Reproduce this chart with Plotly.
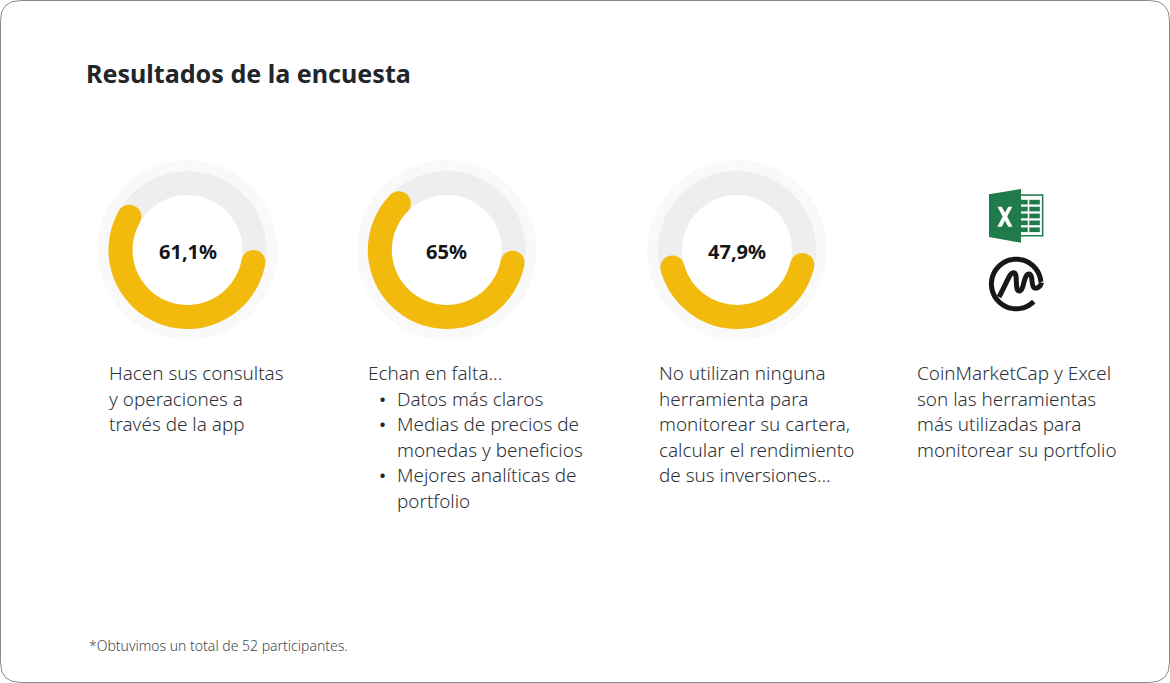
import math
import plotly.graph_objects as go

W, H = 1170, 683
FONT = "Noto Sans"
GOLD = "#F2BA0C"

# Data
values = [61.1, 65.0, 47.9]
labels = ["61,1%", "65%", "47,9%"]
title = "Resultados de la encuesta"
footnote = "*Obtuvimos un total de 52 participantes."
captions = [
    ["Hacen sus consultas", "y operaciones a", "través de la app"],
    ["Echan en falta..."],
    ["No utilizan ninguna", "herramienta para", "monitorear su cartera,", "calcular el rendimiento", "de sus inversiones..."],
    ["CoinMarketCap y Excel", "son las herramientas", "más utilizadas para", "monitorear su portfolio"],
]
bullets = [["Datos más claros"], ["Medias de precios de", "monedas y beneficios"], ["Mejores analíticas de", "portfolio"]]

# Layout of the rings
centres = [(187.5, 250), (446.8, 250), (737, 250)]
starts = [100.4, 101.0, 103.0]   # clockwise from 12 o'clock, centre of the first round end
caption_x = [107, 366, 657, 915]
R_HALO, R_TRACK, R_HOLE = 90, 79, 55
R_MID = (R_TRACK + R_HOLE) / 2
CAP = (R_TRACK - R_HOLE) / 2
cap_deg = 2 * math.degrees(math.asin(CAP / R_MID))

fig = go.Figure()
shapes, annots = [], []


def circle(cx, cy, r, fill):
    shapes.append(dict(type="circle", xref="x", yref="y", x0=cx - r, x1=cx + r, y0=cy - r, y1=cy + r,
                       fillcolor=fill, line_width=0, layer="below"))


def text(x, y, s, size=18.9, color="#2E3238", bold=False, anchor="left", weight=300):
    annots.append(dict(x=x, y=y, xref="x", yref="y", text=s, showarrow=False,
                       xanchor=anchor, yanchor="middle", align=anchor,
                       font=dict(family=FONT, size=size, color=color, weight=700 if bold else weight)))


cap_x, cap_y = [], []
for (cx, cy), v, start, lab in zip(centres, values, starts, labels):
    circle(cx, cy, R_HALO, "#F9F9F9")
    circle(cx, cy, R_TRACK, "#EEEEEE")
    circle(cx, cy, R_HOLE, "#FFFFFF")
    span_pct = v - cap_deg / 3.6
    fig.add_trace(go.Pie(
        values=[span_pct, 100 - span_pct], sort=False, direction="clockwise", rotation=start,
        hole=R_HOLE / R_TRACK, textinfo="none", hoverinfo="skip", showlegend=False,
        marker=dict(colors=[GOLD, "rgba(0,0,0,0)"], line=dict(width=0)),
        domain=dict(x=[(cx - R_TRACK) / W, (cx + R_TRACK) / W],
                    y=[1 - (cy + R_TRACK) / H, 1 - (cy - R_TRACK) / H]),
    ))
    for a in (start, start + span_pct * 3.6):
        cap_x.append(cx + R_MID * math.sin(math.radians(a)))
        cap_y.append(cy - R_MID * math.cos(math.radians(a)))
    text(cx, cy + 1, lab, size=20, color="#14161A", bold=True, anchor="center")

fig.add_trace(go.Scatter(x=cap_x, y=cap_y, mode="markers", hoverinfo="skip", showlegend=False, cliponaxis=False,
                         marker=dict(size=2 * CAP, color=GOLD, line_width=0)))

# Texts
text(84, 73, title, size=25.1, color="#22262B", bold=True)
text(87, 645, footnote, size=14, color="#44484E")
LINE = 25.6
for x, lines in zip(caption_x, captions):
    for i, s in enumerate(lines):
        text(x, 373 + i * LINE, s)
row = 1
for item in bullets:
    text(377, 373 + row * LINE, "•", weight=400, color="#22262B")
    for s in item:
        text(395, 373 + row * LINE, s)
        row += 1

# Card border
r = 20
x0, y0, x1, y1 = 0.5, 0.5, W - 0.5, H - 0.5
shapes.insert(0, dict(type="path", xref="x", yref="y", layer="below", fillcolor="#FFFFFF",
                      line=dict(color="#8A8A8A", width=1),
                      path=f"M{x0+r},{y0} L{x1-r},{y0} Q{x1},{y0} {x1},{y0+r} L{x1},{y1-r} Q{x1},{y1} {x1-r},{y1} "
                           f"L{x0+r},{y1} Q{x0},{y1} {x0},{y1-r} L{x0},{y0+r} Q{x0},{y0} {x0+r},{y0} Z"))


# Excel icon
def poly(points, fill):
    d = "M" + " L".join(f"{a},{b}" for a, b in points) + " Z"
    shapes.append(dict(type="path", xref="x", yref="y", path=d, fillcolor=fill, line_width=0, layer="above"))


XL = "#1F7A4C"
poly([(1021, 194.3), (1043.4, 194.3), (1043.4, 236.5), (1021, 236.5)], XL)
poly([(1021, 195.8), (1041.9, 195.8), (1041.9, 235), (1021, 235)], "#FFFFFF")
for i in range(5):
    y = 199.8 + i * 6.9
    poly([(1021, y), (1027.7, y), (1027.7, y + 4.7), (1021, y + 4.7)], XL)
    poly([(1029.3, y), (1039.8, y), (1039.8, y + 4.7), (1029.3, y + 4.7)], XL)
poly([(989, 194.3), (1021, 189), (1021, 242.7), (989, 237)], XL)
poly([(997.5, 206.7), (1001.8, 206.7), (1005, 212.8), (1008.2, 206.7), (1012.3, 206.7), (1007.2, 216.5), (1012.5, 226.7),
      (1008.2, 226.7), (1005, 220.4), (1001.8, 226.7), (997.4, 226.7), (1002.7, 216.5)], "#FFFFFF")

# CoinMarketCap icon
ccx, ccy, cr = 1016.2, 284, 24.8
pts = [(ccx + cr * math.cos(math.radians(a)), ccy + cr * math.sin(math.radians(a))) for a in range(45, 356, 5)]
arc = "M" + " L".join(f"{a:.1f},{b:.1f}" for a, b in pts)
shapes.append(dict(type="path", xref="x", yref="y", layer="above", line=dict(color="#17181A", width=5), path=arc))
wave = ("M999,297 C1003,290 1007.5,279 1010.5,274.5 C1012.5,272 1015.5,272 1016,276 "
        "C1016.5,280 1016,287 1017.5,290 C1019,292 1021.5,291 1022.7,287 "
        "C1024,282.5 1025,276 1027.5,274.5 C1030,273 1031.5,275 1031.8,278.5 "
        "C1032,282 1032.3,287 1034.5,288 C1037,289 1040.5,287 1041.5,282.5")
shapes.append(dict(type="path", xref="x", yref="y", layer="above", line=dict(color="#17181A", width=5), path=wave))

fig.update_layout(
    width=W, height=H, margin=dict(l=0, r=0, t=0, b=0), autosize=False,
    paper_bgcolor="#FFFFFF", plot_bgcolor="rgba(0,0,0,0)", showlegend=False,
    xaxis=dict(range=[0, W], visible=False, fixedrange=True, domain=[0, 1]),
    yaxis=dict(range=[H, 0], visible=False, fixedrange=True, domain=[0, 1]),
    shapes=shapes, annotations=annots,
)
fig.write_html("out.html", config=dict(displayModeBar=False),
               post_script="document.body.style.margin='0';document.documentElement.style.overflow='hidden';")
